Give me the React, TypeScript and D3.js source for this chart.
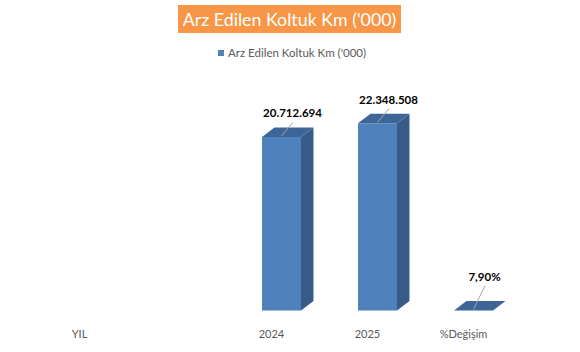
import React from "react";
import * as d3 from "d3";

const categories = ["YIL", "", "2024", "2025", "%Değişim"];
const values: (number | null)[] = [null, null, 20712694, 22348508, 0.079];
const seriesName = "Arz Edilen Koltuk Km ('000)";
const titleText = "Arz Edilen Koltuk Km ('000)";

const W = 580;
const H = 352;
const FONT = "Lato, 'Liberation Sans', sans-serif";

const tr = d3.formatLocale({ decimal: ",", thousands: ".", grouping: [3], currency: ["", ""] });
const fmtNum = tr.format(",.0f");
const fmtPct = tr.format(".2%");

export default function App() {
  const x = d3.scaleBand<string>().domain(categories).range([31.5, 511.5]);
  const y = d3.scaleLinear().domain([0, 25000000]).range([310.5, 101]);
  const dx = 12.5;
  const dy = -9.5;
  const barW = 39;
  const barOff = 10; // perspective shift of the front face

  const bars = categories.map((c, i) => {
    const v = values[i];
    if (v == null) return null;
    const cx = (x(c) as number) + x.bandwidth() / 2;
    const fx0 = cx + barOff - barW / 2;
    const fx1 = fx0 + barW;
    const y0 = y(0);
    const y1 = y(v);
    const front = `M${fx0},${y0}L${fx1},${y0}L${fx1},${y1}L${fx0},${y1}Z`;
    const side = `M${fx1},${y0}L${fx1 + dx},${y0 + dy}L${fx1 + dx},${y1 + dy}L${fx1},${y1}Z`;
    const top = `M${fx0},${y1}L${fx1},${y1}L${fx1 + dx},${y1 + dy}L${fx0 + dx},${y1 + dy}Z`;
    const frontCx = (fx0 + fx1) / 2;
    const labelX = frontCx + 11;
    const labelY = Math.min(y1 + dy - 10, y0 - 30);
    const label = c.startsWith("%") ? fmtPct(v) : fmtNum(v);
    return { c, front, side, top, frontCx, y1, labelX, labelY, label, h: y0 - y1 };
  });

  return (
    <svg width={W} height={H} style={{ position: "absolute", left: 0, top: 0, background: "#fff" }}>
      <rect x={178} y={5} width={223} height={28} fill="#F79646" />
      <text x={289.5} y={25.5} textAnchor="middle" fill="#fff" fontFamily={FONT} fontSize={17.8}>
        {titleText}
      </text>
      <rect x={218} y={50} width={6} height={6} fill="#4F81BD" />
      <text x={228} y={56.8} fill="#595959" fontFamily={FONT} fontSize={11.5}>
        {seriesName}
      </text>
      {bars.map((b, i) =>
        b ? (
          <g key={i}>
            {b.h > 0.5 && <path d={b.side} fill="#385B88" />}
            <path d={b.top} fill="#3D6597" />
            {b.h > 0.5 && <path d={b.front} fill="#4F81BD" />}
          </g>
        ) : null
      )}
      {bars.map((b, i) =>
        b ? (
          <g key={"l" + i}>
            <line x1={b.labelX + 0.5} y1={b.labelY + 5} x2={b.frontCx} y2={b.y1 - 1} stroke="#A6A6A6" strokeWidth={1} />
            <text x={b.labelX} y={b.labelY} textAnchor="middle" fontFamily={FONT} fontWeight="bold" fontSize={11.5} fill="#000">
              {b.label}
            </text>
          </g>
        ) : null
      )}
      {categories.map((c, i) => (
        <text key={"c" + i} x={(x(c) as number) + x.bandwidth() / 2} y={338} textAnchor="middle" fill="#595959" fontFamily={FONT} fontSize={11}>
          {c}
        </text>
      ))}
    </svg>
  );
}
